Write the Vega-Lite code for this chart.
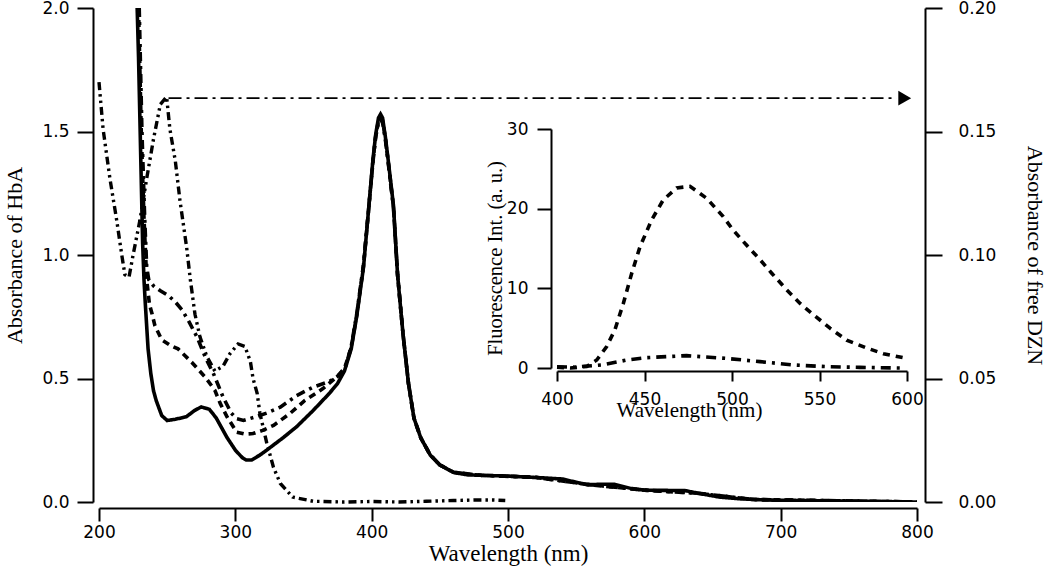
{
  "$schema": "https://vega.github.io/schema/vega-lite/v6.json",
  "width": 818,
  "height": 494,
  "autosize": {"type": "none"},
  "padding": {"left": 99, "top": 8, "right": 133, "bottom": 70},
  "background": "white",
  "config": {
    "view": {"stroke": null},
    "axis": {
      "grid": false,
      "domainColor": "black",
      "domainWidth": 2,
      "tickColor": "black",
      "tickWidth": 2,
      "labelColor": "black",
      "labelFont": "DejaVu Sans",
      "labelFontSize": 17,
      "titleColor": "black",
      "titleFont": "Liberation Serif",
      "titleFontSize": 22,
      "titleFontWeight": "normal",
      "labelFlush": false,
      "labelOverlap": false
    }
  },
  "datasets": {
    "abs": [
      {"nm": 229.5, "value": 2.0, "series": "HbA + DZN (b)"},
      {"nm": 231.5, "value": 1.5, "series": "HbA + DZN (b)"},
      {"nm": 233.5, "value": 1.15, "series": "HbA + DZN (b)"},
      {"nm": 235, "value": 0.95, "series": "HbA + DZN (b)"},
      {"nm": 236.5, "value": 0.9, "series": "HbA + DZN (b)"},
      {"nm": 240, "value": 0.875, "series": "HbA + DZN (b)"},
      {"nm": 245, "value": 0.855, "series": "HbA + DZN (b)"},
      {"nm": 251, "value": 0.835, "series": "HbA + DZN (b)"},
      {"nm": 256, "value": 0.81, "series": "HbA + DZN (b)"},
      {"nm": 261, "value": 0.777, "series": "HbA + DZN (b)"},
      {"nm": 266, "value": 0.73, "series": "HbA + DZN (b)"},
      {"nm": 272, "value": 0.667, "series": "HbA + DZN (b)"},
      {"nm": 278, "value": 0.586, "series": "HbA + DZN (b)"},
      {"nm": 284, "value": 0.519, "series": "HbA + DZN (b)"},
      {"nm": 291, "value": 0.425, "series": "HbA + DZN (b)"},
      {"nm": 297, "value": 0.36, "series": "HbA + DZN (b)"},
      {"nm": 301, "value": 0.337, "series": "HbA + DZN (b)"},
      {"nm": 306, "value": 0.33, "series": "HbA + DZN (b)"},
      {"nm": 315, "value": 0.345, "series": "HbA + DZN (b)"},
      {"nm": 323, "value": 0.36, "series": "HbA + DZN (b)"},
      {"nm": 333, "value": 0.384, "series": "HbA + DZN (b)"},
      {"nm": 345, "value": 0.431, "series": "HbA + DZN (b)"},
      {"nm": 357, "value": 0.465, "series": "HbA + DZN (b)"},
      {"nm": 369, "value": 0.488, "series": "HbA + DZN (b)"},
      {"nm": 376, "value": 0.512, "series": "HbA + DZN (b)"},
      {"nm": 381, "value": 0.55, "series": "HbA + DZN (b)"},
      {"nm": 385, "value": 0.63, "series": "HbA + DZN (b)"},
      {"nm": 389, "value": 0.76, "series": "HbA + DZN (b)"},
      {"nm": 394, "value": 0.96, "series": "HbA + DZN (b)"},
      {"nm": 398, "value": 1.2, "series": "HbA + DZN (b)"},
      {"nm": 401, "value": 1.38, "series": "HbA + DZN (b)"},
      {"nm": 403, "value": 1.48, "series": "HbA + DZN (b)"},
      {"nm": 405, "value": 1.535, "series": "HbA + DZN (b)"},
      {"nm": 406.5, "value": 1.55, "series": "HbA + DZN (b)"},
      {"nm": 408, "value": 1.535, "series": "HbA + DZN (b)"},
      {"nm": 410, "value": 1.47, "series": "HbA + DZN (b)"},
      {"nm": 412, "value": 1.38, "series": "HbA + DZN (b)"},
      {"nm": 416, "value": 1.19, "series": "HbA + DZN (b)"},
      {"nm": 419, "value": 0.92, "series": "HbA + DZN (b)"},
      {"nm": 423, "value": 0.68, "series": "HbA + DZN (b)"},
      {"nm": 427, "value": 0.48, "series": "HbA + DZN (b)"},
      {"nm": 431, "value": 0.34, "series": "HbA + DZN (b)"},
      {"nm": 436, "value": 0.26, "series": "HbA + DZN (b)"},
      {"nm": 443, "value": 0.19, "series": "HbA + DZN (b)"},
      {"nm": 450, "value": 0.15, "series": "HbA + DZN (b)"},
      {"nm": 460, "value": 0.12, "series": "HbA + DZN (b)"},
      {"nm": 480, "value": 0.108, "series": "HbA + DZN (b)"},
      {"nm": 520, "value": 0.1, "series": "HbA + DZN (b)"},
      {"nm": 560, "value": 0.07, "series": "HbA + DZN (b)"},
      {"nm": 600, "value": 0.048, "series": "HbA + DZN (b)"},
      {"nm": 640, "value": 0.035, "series": "HbA + DZN (b)"},
      {"nm": 680, "value": 0.01, "series": "HbA + DZN (b)"},
      {"nm": 800, "value": 0.0, "series": "HbA + DZN (b)"},

      {"nm": 229, "value": 2.0, "series": "HbA + DZN (a)"},
      {"nm": 231, "value": 1.5, "series": "HbA + DZN (a)"},
      {"nm": 233, "value": 1.15, "series": "HbA + DZN (a)"},
      {"nm": 235, "value": 0.9, "series": "HbA + DZN (a)"},
      {"nm": 237, "value": 0.8, "series": "HbA + DZN (a)"},
      {"nm": 239, "value": 0.76, "series": "HbA + DZN (a)"},
      {"nm": 241, "value": 0.714, "series": "HbA + DZN (a)"},
      {"nm": 246, "value": 0.657, "series": "HbA + DZN (a)"},
      {"nm": 252, "value": 0.635, "series": "HbA + DZN (a)"},
      {"nm": 258, "value": 0.62, "series": "HbA + DZN (a)"},
      {"nm": 268, "value": 0.566, "series": "HbA + DZN (a)"},
      {"nm": 278, "value": 0.505, "series": "HbA + DZN (a)"},
      {"nm": 285, "value": 0.452, "series": "HbA + DZN (a)"},
      {"nm": 289, "value": 0.398, "series": "HbA + DZN (a)"},
      {"nm": 294, "value": 0.344, "series": "HbA + DZN (a)"},
      {"nm": 301, "value": 0.283, "series": "HbA + DZN (a)"},
      {"nm": 307, "value": 0.275, "series": "HbA + DZN (a)"},
      {"nm": 313, "value": 0.277, "series": "HbA + DZN (a)"},
      {"nm": 320, "value": 0.29, "series": "HbA + DZN (a)"},
      {"nm": 328, "value": 0.31, "series": "HbA + DZN (a)"},
      {"nm": 340, "value": 0.358, "series": "HbA + DZN (a)"},
      {"nm": 351, "value": 0.411, "series": "HbA + DZN (a)"},
      {"nm": 364, "value": 0.458, "series": "HbA + DZN (a)"},
      {"nm": 374, "value": 0.505, "series": "HbA + DZN (a)"},
      {"nm": 380, "value": 0.54, "series": "HbA + DZN (a)"},
      {"nm": 385, "value": 0.625, "series": "HbA + DZN (a)"},
      {"nm": 389, "value": 0.755, "series": "HbA + DZN (a)"},
      {"nm": 394, "value": 0.955, "series": "HbA + DZN (a)"},
      {"nm": 398, "value": 1.2, "series": "HbA + DZN (a)"},
      {"nm": 401, "value": 1.385, "series": "HbA + DZN (a)"},
      {"nm": 403, "value": 1.485, "series": "HbA + DZN (a)"},
      {"nm": 405, "value": 1.545, "series": "HbA + DZN (a)"},
      {"nm": 406.5, "value": 1.56, "series": "HbA + DZN (a)"},
      {"nm": 408, "value": 1.545, "series": "HbA + DZN (a)"},
      {"nm": 410, "value": 1.475, "series": "HbA + DZN (a)"},
      {"nm": 412, "value": 1.385, "series": "HbA + DZN (a)"},
      {"nm": 416, "value": 1.195, "series": "HbA + DZN (a)"},
      {"nm": 419, "value": 0.92, "series": "HbA + DZN (a)"},
      {"nm": 423, "value": 0.68, "series": "HbA + DZN (a)"},
      {"nm": 427, "value": 0.48, "series": "HbA + DZN (a)"},
      {"nm": 431, "value": 0.34, "series": "HbA + DZN (a)"},
      {"nm": 436, "value": 0.26, "series": "HbA + DZN (a)"},
      {"nm": 443, "value": 0.19, "series": "HbA + DZN (a)"},
      {"nm": 450, "value": 0.15, "series": "HbA + DZN (a)"},
      {"nm": 460, "value": 0.12, "series": "HbA + DZN (a)"},
      {"nm": 480, "value": 0.108, "series": "HbA + DZN (a)"},
      {"nm": 520, "value": 0.1, "series": "HbA + DZN (a)"},
      {"nm": 560, "value": 0.07, "series": "HbA + DZN (a)"},
      {"nm": 600, "value": 0.048, "series": "HbA + DZN (a)"},
      {"nm": 640, "value": 0.035, "series": "HbA + DZN (a)"},
      {"nm": 680, "value": 0.01, "series": "HbA + DZN (a)"},
      {"nm": 800, "value": 0.0, "series": "HbA + DZN (a)"},

      {"nm": 228, "value": 2.0, "series": "HbA"},
      {"nm": 229, "value": 1.8, "series": "HbA"},
      {"nm": 230, "value": 1.55, "series": "HbA"},
      {"nm": 231, "value": 1.3, "series": "HbA"},
      {"nm": 232, "value": 1.05, "series": "HbA"},
      {"nm": 233, "value": 0.9, "series": "HbA"},
      {"nm": 234, "value": 0.8, "series": "HbA"},
      {"nm": 236, "value": 0.62, "series": "HbA"},
      {"nm": 238, "value": 0.52, "series": "HbA"},
      {"nm": 240, "value": 0.45, "series": "HbA"},
      {"nm": 242, "value": 0.41, "series": "HbA"},
      {"nm": 246, "value": 0.35, "series": "HbA"},
      {"nm": 250, "value": 0.33, "series": "HbA"},
      {"nm": 256, "value": 0.335, "series": "HbA"},
      {"nm": 264, "value": 0.345, "series": "HbA"},
      {"nm": 270, "value": 0.37, "series": "HbA"},
      {"nm": 275, "value": 0.385, "series": "HbA"},
      {"nm": 281, "value": 0.375, "series": "HbA"},
      {"nm": 286, "value": 0.34, "series": "HbA"},
      {"nm": 290, "value": 0.3, "series": "HbA"},
      {"nm": 294, "value": 0.26, "series": "HbA"},
      {"nm": 300, "value": 0.21, "series": "HbA"},
      {"nm": 305, "value": 0.18, "series": "HbA"},
      {"nm": 308, "value": 0.17, "series": "HbA"},
      {"nm": 312, "value": 0.17, "series": "HbA"},
      {"nm": 318, "value": 0.19, "series": "HbA"},
      {"nm": 323, "value": 0.21, "series": "HbA"},
      {"nm": 335, "value": 0.26, "series": "HbA"},
      {"nm": 345, "value": 0.305, "series": "HbA"},
      {"nm": 357, "value": 0.37, "series": "HbA"},
      {"nm": 369, "value": 0.44, "series": "HbA"},
      {"nm": 375, "value": 0.48, "series": "HbA"},
      {"nm": 380, "value": 0.53, "series": "HbA"},
      {"nm": 385, "value": 0.62, "series": "HbA"},
      {"nm": 389, "value": 0.75, "series": "HbA"},
      {"nm": 394, "value": 0.95, "series": "HbA"},
      {"nm": 398, "value": 1.2, "series": "HbA"},
      {"nm": 401, "value": 1.39, "series": "HbA"},
      {"nm": 403, "value": 1.49, "series": "HbA"},
      {"nm": 405, "value": 1.555, "series": "HbA"},
      {"nm": 406.5, "value": 1.57, "series": "HbA"},
      {"nm": 408, "value": 1.555, "series": "HbA"},
      {"nm": 410, "value": 1.48, "series": "HbA"},
      {"nm": 412, "value": 1.39, "series": "HbA"},
      {"nm": 416, "value": 1.2, "series": "HbA"},
      {"nm": 419, "value": 0.92, "series": "HbA"},
      {"nm": 423, "value": 0.68, "series": "HbA"},
      {"nm": 427, "value": 0.48, "series": "HbA"},
      {"nm": 431, "value": 0.34, "series": "HbA"},
      {"nm": 436, "value": 0.26, "series": "HbA"},
      {"nm": 443, "value": 0.19, "series": "HbA"},
      {"nm": 450, "value": 0.15, "series": "HbA"},
      {"nm": 460, "value": 0.12, "series": "HbA"},
      {"nm": 470, "value": 0.11, "series": "HbA"},
      {"nm": 480, "value": 0.108, "series": "HbA"},
      {"nm": 500, "value": 0.105, "series": "HbA"},
      {"nm": 510, "value": 0.102, "series": "HbA"},
      {"nm": 525, "value": 0.098, "series": "HbA"},
      {"nm": 540, "value": 0.093, "series": "HbA"},
      {"nm": 550, "value": 0.08, "series": "HbA"},
      {"nm": 558, "value": 0.07, "series": "HbA"},
      {"nm": 570, "value": 0.072, "series": "HbA"},
      {"nm": 578, "value": 0.072, "series": "HbA"},
      {"nm": 590, "value": 0.055, "series": "HbA"},
      {"nm": 600, "value": 0.048, "series": "HbA"},
      {"nm": 615, "value": 0.047, "series": "HbA"},
      {"nm": 630, "value": 0.046, "series": "HbA"},
      {"nm": 640, "value": 0.035, "series": "HbA"},
      {"nm": 655, "value": 0.02, "series": "HbA"},
      {"nm": 670, "value": 0.013, "series": "HbA"},
      {"nm": 690, "value": 0.008, "series": "HbA"},
      {"nm": 730, "value": 0.005, "series": "HbA"},
      {"nm": 800, "value": 0.0, "series": "HbA"}
    ],
    "dzn": [
      {"nm": 200, "absorbance": 0.17},
      {"nm": 203, "absorbance": 0.151},
      {"nm": 208, "absorbance": 0.131},
      {"nm": 213, "absorbance": 0.114},
      {"nm": 216.7, "absorbance": 0.1},
      {"nm": 219, "absorbance": 0.092},
      {"nm": 222, "absorbance": 0.091},
      {"nm": 225, "absorbance": 0.1},
      {"nm": 230, "absorbance": 0.114},
      {"nm": 235, "absorbance": 0.131},
      {"nm": 240, "absorbance": 0.147},
      {"nm": 245, "absorbance": 0.161},
      {"nm": 249.6, "absorbance": 0.164},
      {"nm": 252, "absorbance": 0.151},
      {"nm": 256, "absorbance": 0.138},
      {"nm": 259.4, "absorbance": 0.122},
      {"nm": 264.3, "absorbance": 0.103},
      {"nm": 267, "absorbance": 0.09},
      {"nm": 270.4, "absorbance": 0.076},
      {"nm": 274, "absorbance": 0.067},
      {"nm": 279, "absorbance": 0.059},
      {"nm": 285, "absorbance": 0.053},
      {"nm": 291, "absorbance": 0.055},
      {"nm": 296, "absorbance": 0.06},
      {"nm": 302, "absorbance": 0.064},
      {"nm": 307, "absorbance": 0.063},
      {"nm": 311, "absorbance": 0.057},
      {"nm": 313, "absorbance": 0.05},
      {"nm": 316, "absorbance": 0.044},
      {"nm": 318, "absorbance": 0.036},
      {"nm": 323, "absorbance": 0.024},
      {"nm": 328, "absorbance": 0.014},
      {"nm": 333, "absorbance": 0.0075},
      {"nm": 342, "absorbance": 0.002},
      {"nm": 357, "absorbance": 0.0003},
      {"nm": 380, "absorbance": 0.0},
      {"nm": 400, "absorbance": 0.0002},
      {"nm": 420, "absorbance": 0.0},
      {"nm": 440, "absorbance": 0.0003},
      {"nm": 460, "absorbance": 0.0006},
      {"nm": 475, "absorbance": 0.0008},
      {"nm": 490, "absorbance": 0.0008},
      {"nm": 498, "absorbance": 0.0006}
    ],
    "arrow": [
      {"nm": 251, "absorbance": 0.1635},
      {"nm": 785, "absorbance": 0.1635}
    ],
    "arrowhead": [
      {"nm": 791, "absorbance": 0.1635}
    ],
    "fl": [
      {"nm": 400, "intensity": 0.1, "series": "HbA + DZN (a)"},
      {"nm": 407.6, "intensity": 0.0, "series": "HbA + DZN (a)"},
      {"nm": 417, "intensity": 0.2, "series": "HbA + DZN (a)"},
      {"nm": 422.7, "intensity": 1.0, "series": "HbA + DZN (a)"},
      {"nm": 428.4, "intensity": 2.7, "series": "HbA + DZN (a)"},
      {"nm": 433.1, "intensity": 4.8, "series": "HbA + DZN (a)"},
      {"nm": 437.9, "intensity": 8.1, "series": "HbA + DZN (a)"},
      {"nm": 442.7, "intensity": 11.9, "series": "HbA + DZN (a)"},
      {"nm": 447.4, "intensity": 15.2, "series": "HbA + DZN (a)"},
      {"nm": 454.1, "intensity": 18.6, "series": "HbA + DZN (a)"},
      {"nm": 460.7, "intensity": 21.1, "series": "HbA + DZN (a)"},
      {"nm": 468.4, "intensity": 22.6, "series": "HbA + DZN (a)"},
      {"nm": 476, "intensity": 22.8, "series": "HbA + DZN (a)"},
      {"nm": 485.5, "intensity": 21.3, "series": "HbA + DZN (a)"},
      {"nm": 495, "intensity": 19.0, "series": "HbA + DZN (a)"},
      {"nm": 500.7, "intensity": 17.3, "series": "HbA + DZN (a)"},
      {"nm": 508.4, "intensity": 15.4, "series": "HbA + DZN (a)"},
      {"nm": 516, "intensity": 13.6, "series": "HbA + DZN (a)"},
      {"nm": 522.7, "intensity": 11.9, "series": "HbA + DZN (a)"},
      {"nm": 531.3, "intensity": 9.8, "series": "HbA + DZN (a)"},
      {"nm": 538.9, "intensity": 8.1, "series": "HbA + DZN (a)"},
      {"nm": 546.5, "intensity": 6.7, "series": "HbA + DZN (a)"},
      {"nm": 556, "intensity": 5.0, "series": "HbA + DZN (a)"},
      {"nm": 565.5, "intensity": 3.5, "series": "HbA + DZN (a)"},
      {"nm": 577, "intensity": 2.5, "series": "HbA + DZN (a)"},
      {"nm": 586.5, "intensity": 1.8, "series": "HbA + DZN (a)"},
      {"nm": 599.8, "intensity": 1.2, "series": "HbA + DZN (a)"},

      {"nm": 400, "intensity": 0.15, "series": "HbA + DZN (b)"},
      {"nm": 410, "intensity": 0.1, "series": "HbA + DZN (b)"},
      {"nm": 420.8, "intensity": 0.3, "series": "HbA + DZN (b)"},
      {"nm": 426.5, "intensity": 0.4, "series": "HbA + DZN (b)"},
      {"nm": 439.8, "intensity": 1.0, "series": "HbA + DZN (b)"},
      {"nm": 451.2, "intensity": 1.3, "series": "HbA + DZN (b)"},
      {"nm": 474.1, "intensity": 1.55, "series": "HbA + DZN (b)"},
      {"nm": 497, "intensity": 1.2, "series": "HbA + DZN (b)"},
      {"nm": 516, "intensity": 0.8, "series": "HbA + DZN (b)"},
      {"nm": 535, "intensity": 0.38, "series": "HbA + DZN (b)"},
      {"nm": 554.1, "intensity": 0.17, "series": "HbA + DZN (b)"},
      {"nm": 573.1, "intensity": 0.08, "series": "HbA + DZN (b)"},
      {"nm": 596, "intensity": 0.0, "series": "HbA + DZN (b)"}
    ]
  },
  "layer": [
    {
      "data": {"name": "abs"},
      "mark": {"type": "line", "color": "black", "strokeWidth": 3.6, "clip": true},
      "encoding": {
        "x": {
          "field": "nm", "type": "quantitative",
          "scale": {"domain": [200, 800], "nice": false},
          "axis": {
            "orient": "bottom", "offset": 6, "values": [200, 300, 400, 500, 600, 700, 800],
            "tickSize": 13, "labelPadding": 3, "title": "Wavelength (nm)", "titlePadding": 2, "titleFontSize": 23
          }
        },
        "y": {
          "field": "value", "type": "quantitative",
          "scale": {"domain": [0, 2], "nice": false},
          "axis": {
            "orient": "left", "offset": 6, "values": [0, 0.5, 1, 1.5, 2], "format": ".1f",
            "tickSize": 16, "labelPadding": 8, "title": "Absorbance of HbA", "titlePadding": 15
          }
        },
        "strokeDash": {
          "field": "series", "type": "nominal",
          "scale": {"domain": ["HbA + DZN (b)", "HbA + DZN (a)", "HbA"], "range": [[9, 5, 3, 5], [7, 5], [1, 0]]},
          "legend": null
        },
        "order": {"field": "nm", "type": "quantitative"}
      }
    },
    {
      "layer": [
        {
          "data": {"name": "dzn"},
          "mark": {"type": "line", "color": "black", "strokeWidth": 3.4, "strokeDash": [8, 4, 2.5, 4, 2.5, 4]},
          "encoding": {
            "x": {"field": "nm", "type": "quantitative", "scale": {"domain": [200, 800], "nice": false}, "axis": null},
            "y": {
              "field": "absorbance", "type": "quantitative",
              "scale": {"domain": [0, 0.2], "nice": false},
              "axis": {
                "orient": "right", "offset": 8, "values": [0, 0.05, 0.1, 0.15, 0.2], "format": ".2f",
                "tickSize": 17, "labelPadding": 16, "title": "Absorbance of free DZN", "titlePadding": 27
              }
            }
          }
        },
        {
          "data": {"name": "arrow"},
          "mark": {"type": "line", "color": "black", "strokeWidth": 1.6, "strokeDash": [13, 5, 3, 5]},
          "encoding": {
            "x": {"field": "nm", "type": "quantitative"},
            "y": {"field": "absorbance", "type": "quantitative"}
          }
        },
        {
          "data": {"name": "arrowhead"},
          "mark": {"type": "point", "shape": "triangle-right", "filled": true, "color": "black", "size": 220, "opacity": 1},
          "encoding": {
            "x": {"field": "nm", "type": "quantitative"},
            "y": {"field": "absorbance", "type": "quantitative"}
          }
        }
      ]
    },
    {
      "data": {"name": "fl"},
      "mark": {"type": "line", "color": "black", "strokeWidth": 3.6},
      "encoding": {
        "x": {
          "field": "nm", "type": "quantitative",
          "scale": {"domain": [400, 600], "range": [458, 808], "nice": false},
          "axis": {
            "orient": "bottom", "offset": -131, "values": [400, 450, 500, 550, 600],
            "tickSize": 10, "labelPadding": 10, "title": "Wavelength (nm)",
            "titleX": 590, "titleY": 45, "titleBaseline": "alphabetic", "titleAlign": "center", "titleFontSize": 21
          }
        },
        "y": {
          "field": "intensity", "type": "quantitative",
          "scale": {"domain": [0, 30], "range": [360, 121], "nice": false},
          "axis": {
            "orient": "left", "offset": -452, "values": [0, 10, 20, 30],
            "tickSize": 14, "labelPadding": 9, "title": "Fluorescence Int. (a. u.)",
            "titleX": -46, "titleY": 250, "titleAngle": 270, "titleAlign": "center", "titleBaseline": "bottom", "titleFontSize": 20.5
          }
        },
        "strokeDash": {
          "field": "series", "type": "nominal",
          "scale": {"domain": ["HbA + DZN (a)", "HbA + DZN (b)"], "range": [[7, 6], [10, 6, 3, 6]]},
          "legend": null
        }
      }
    }
  ],
  "resolve": {"scale": {"x": "independent", "y": "independent", "strokeDash": "independent"}}
}
